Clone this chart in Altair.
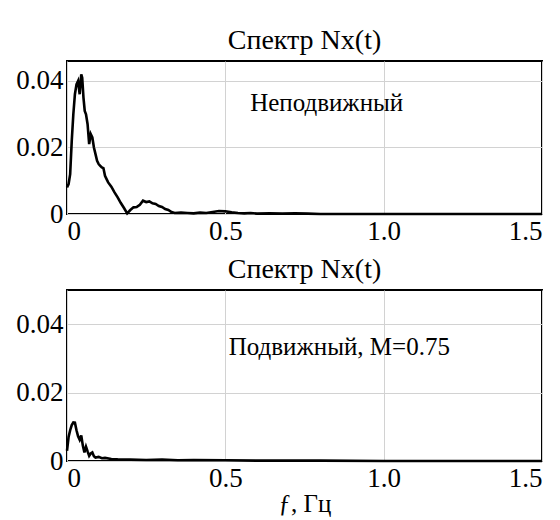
import altair as alt
import pandas as pd

# top panel: "Неподвижный"
f_top = [0.0, 0.005, 0.01, 0.015, 0.02, 0.025, 0.03, 0.035, 0.04, 0.045, 0.048, 0.052,
         0.056, 0.06, 0.065, 0.07, 0.075, 0.08, 0.085, 0.09, 0.095, 0.1, 0.105, 0.11,
         0.115, 0.12, 0.125, 0.13, 0.14, 0.15, 0.16, 0.17, 0.18, 0.19, 0.2, 0.21, 0.22,
         0.23, 0.24, 0.25, 0.26, 0.27, 0.28, 0.29, 0.3, 0.31, 0.32, 0.33, 0.34, 0.36,
         0.38, 0.40, 0.42, 0.44, 0.46, 0.48, 0.50, 0.52, 0.54, 0.56, 0.58, 0.60, 0.64,
         0.68, 0.72, 0.76, 0.80, 0.9, 1.0, 1.2, 1.5]
v_top = [0.008, 0.009, 0.012, 0.022, 0.030, 0.036, 0.039, 0.040, 0.036, 0.042, 0.041, 0.035,
         0.031, 0.030, 0.027, 0.021, 0.024, 0.023, 0.020, 0.018, 0.016, 0.015, 0.0145, 0.014,
         0.0138, 0.0115, 0.0105, 0.0095, 0.0082, 0.0065, 0.005, 0.0033, 0.0018, 0.0002, 0.0012,
         0.0020, 0.0021, 0.0028, 0.0040, 0.0036, 0.0038, 0.0032, 0.0030, 0.0024, 0.0021, 0.0015,
         0.0012, 0.0006, 0.0003, 0.0004, 0.0003, 0.0002, 0.0004, 0.0003, 0.0006, 0.0009, 0.0008,
         0.0005, 0.0003, 0.0002, 0.0003, 0.0001, 0.0002, 0.0001, 0.0002, 0.0001, 0.0, 0.0, 0.0,
         0.0, 0.0]

# bottom panel: "Подвижный, M=0.75"
f_bot = [0.0, 0.005, 0.01, 0.015, 0.02, 0.025, 0.03, 0.035, 0.04, 0.045, 0.05, 0.055, 0.06,
         0.065, 0.07, 0.075, 0.08, 0.085, 0.09, 0.1, 0.11, 0.12, 0.14, 0.16, 0.2, 0.25, 0.3,
         0.35, 0.4, 0.5, 0.6, 0.8, 1.0, 1.5]
v_bot = [0.003, 0.007, 0.009, 0.0105, 0.0113, 0.0112, 0.009, 0.0072, 0.0062, 0.0075, 0.0045,
         0.0025, 0.0042, 0.0028, 0.0015, 0.0022, 0.0025, 0.0014, 0.0010, 0.0012, 0.0008, 0.0009,
         0.0006, 0.0005, 0.0004, 0.0003, 0.0004, 0.0002, 0.0003, 0.0002, 0.0001, 0.0001, 0.0, 0.0]

title_text = "Спектр Nx(t)"
labels = ["Неподвижный", "Подвижный, M=0.75"]
label_f = [0.82, 0.86]
label_v = [0.0334, 0.0332]
x_ticks = [0, 0.5, 1.0, 1.5]
y_ticks = [0, 0.02, 0.04]
y_max = [0.046, 0.05]

FONT = "Liberation Serif"
W = 475


def panel(f, v, lab, lf, lv, ymax, h, show_xtitle):
    df = pd.DataFrame({"f": f, "v": v})
    x = alt.X("f:Q", scale=alt.Scale(domain=[0, 1.5], nice=False),
              axis=alt.Axis(values=x_ticks, labelFont=FONT, labelFontSize=27,
                            labelColor="black", labelPadding=4,
                            labelExpr="datum.value == 0 ? '0' : format(datum.value, '.1f')",
                            title="ƒ, Гц" if show_xtitle else None,
                            titleFont=FONT, titleFontSize=25, titleFontWeight="normal",
                            titleColor="black", titlePadding=0))
    y = alt.Y("v:Q", scale=alt.Scale(domain=[0, ymax], nice=False, clamp=True),
              axis=alt.Axis(values=y_ticks, labelFont=FONT, labelFontSize=27,
                            labelColor="black", labelPadding=4,
                            labelExpr="datum.value == 0 ? '0' : format(datum.value, '.2f')",
                            title=None))
    line = alt.Chart(df).mark_line(color="black", strokeWidth=2.6).encode(x=x, y=y)
    tdf = pd.DataFrame({"f": [lf], "v": [lv], "t": [lab]})
    txt = alt.Chart(tdf).mark_text(font=FONT, fontSize=25, color="black",
                                   align="center", baseline="middle").encode(
        x="f:Q", y="v:Q", text="t:N")
    return alt.layer(line, txt).properties(
        width=W, height=h,
        title=alt.TitleParams(title_text, font=FONT, fontSize=28, fontWeight="normal",
                              color="black", offset=6, anchor="middle"))


top = panel(f_top, v_top, labels[0], label_f[0], label_v[0], y_max[0], 153, False)
bot = panel(f_bot, v_bot, labels[1], label_f[1], label_v[1], y_max[1], 171, True)

chart = alt.vconcat(top, bot, spacing=10).properties(
    padding={"left": 6, "top": 18, "right": 0, "bottom": 0}
).configure_view(
    stroke="black", strokeWidth=2
).configure_axis(
    domain=False, ticks=False,
    grid=True, gridColor="#d2d2d2", gridWidth=1
)

chart.save("out.html", embed_options={"renderer": "svg", "actions": False})
